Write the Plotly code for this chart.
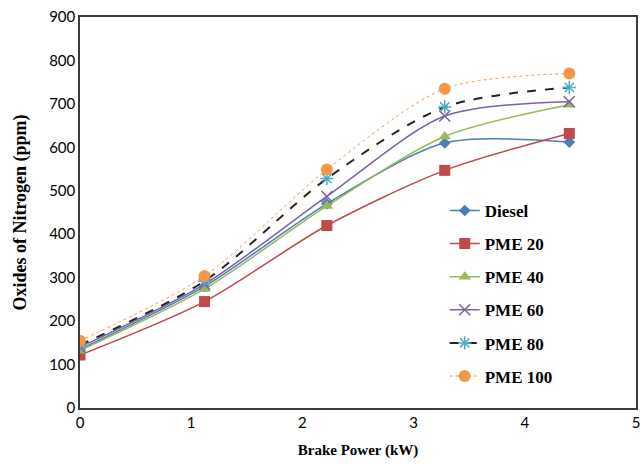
import plotly.graph_objects as go

brake_power = [0, 1.12, 2.22, 3.28, 4.4]
diesel = [135, 280, 470, 610, 612]
pme20 = [122, 245, 420, 547, 632]
pme40 = [132, 274, 465, 625, 698]
pme60 = [140, 285, 487, 672, 705]
pme80 = [145, 292, 528, 693, 738]
pme100 = [155, 304, 549, 735, 770]

series = [
    ("Diesel", diesel, "#4A7EBB", "solid", "diamond", 9),
    ("PME 20", pme20, "#BE4B48", "solid", "square", 11),
    ("PME 40", pme40, "#98B954", "solid", "triangle-up", 11),
    ("PME 60", pme60, "#7D60A0", "solid", "x-thin-open", 11),
    ("PME 80", pme80, "#4BACC6", "dash", "asterisk-open", 11),
    ("PME 100", pme100, "#F79646", "dot", "circle", 12),
]

fig = go.Figure()
for i, (name, vals, color, dash, symbol, size) in enumerate(series):
    line_color = "#222222" if name == "PME 80" else color
    width = 1.0 if name == "PME 100" else (2.0 if name == "PME 80" else 1.5)
    mk = dict(symbol=symbol, size=size, color=color)
    if symbol.endswith("open"):
        mk["line"] = dict(color=color, width=1.5)
    fig.add_trace(go.Scatter(
        x=brake_power, y=vals, name=f"<b>{name}</b>", mode="lines+markers",
        line=dict(color=line_color, width=width, dash=dash, shape="spline", smoothing=0.8),
        marker=mk, legendgroup=f"g{i}",
    ))

fig.update_layout(
    width=641, height=464,
    margin=dict(l=80, r=5, t=17, b=56),
    paper_bgcolor="white", plot_bgcolor="white",
    showlegend=True,
    legend=dict(
        x=0.656, y=0.55, xanchor="left", yanchor="top",
        font=dict(family="Liberation Serif", size=17, color="#000000"),
        tracegroupgap=8, bgcolor="rgba(0,0,0,0)",
    ),
    xaxis=dict(
        range=[0, 5], dtick=1, showgrid=False, zeroline=False, automargin=False,
        showline=True, mirror=True, linecolor="#3a3a3a", linewidth=1.5,
        ticks="", ticklabeloverflow="allow",
        tickfont=dict(family="Lato", size=15, color="#000000"),
        title=dict(text="<b>Brake Power (kW)</b>", standoff=15,
                   font=dict(family="Liberation Serif", size=15, color="#000000")),
    ),
    yaxis=dict(
        range=[0, 900], dtick=100, showgrid=False, zeroline=False, automargin=False,
        showline=True, mirror=True, linecolor="#3a3a3a", linewidth=1.5,
        ticks="", ticklabeloverflow="allow",
        tickfont=dict(family="Lato", size=15, color="#000000"),
        title=dict(text="<b>Oxides of Nitrogen (ppm)</b>", standoff=18,
                   font=dict(family="Liberation Serif", size=18, color="#000000")),
    ),
)

# remove the page's default 8px body margin so the figure fills the window exactly
fig.write_html("out.html", config={"displayModeBar": False},
               post_script="document.body.style.margin='0px';")
